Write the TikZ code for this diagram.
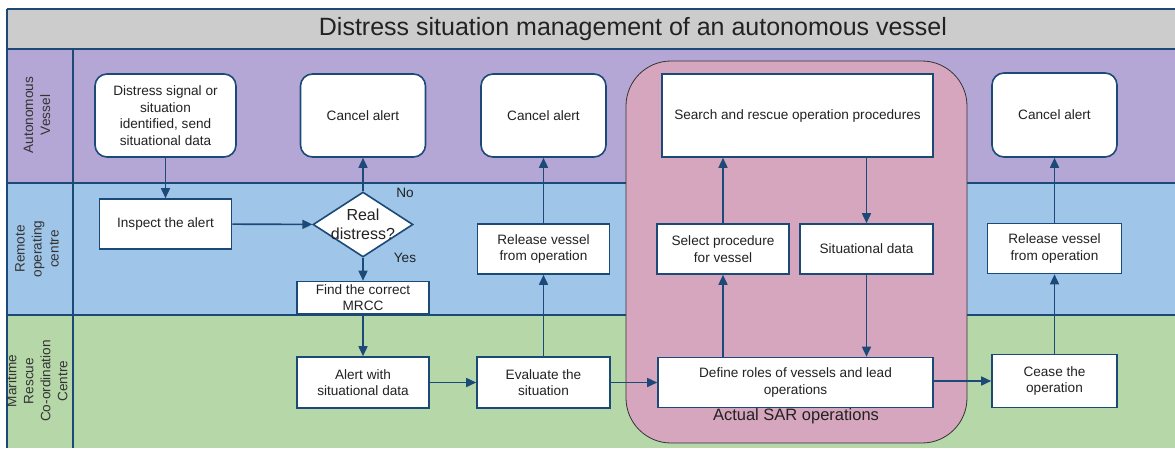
\documentclass[tikz,border=0pt]{standalone}
\usepackage{fontspec}
\setmainfont{Liberation Sans}
\usetikzlibrary{arrows.meta,shapes.geometric}

\definecolor{navy}{HTML}{1B4A78}
\definecolor{titlegray}{HTML}{CCCCCC}
\definecolor{lanepurple}{HTML}{B4A7D6}
\definecolor{laneblue}{HTML}{9FC5E8}
\definecolor{lanegreen}{HTML}{B6D7A8}
\definecolor{sarpink}{HTML}{D5A6BD}
\definecolor{ink}{HTML}{222222}
\definecolor{lanetext}{HTML}{333333}

\tikzset{
  box/.style={draw=navy, line width=1.6pt, fill=white, text=ink, align=center,
    inner sep=0pt, font=\fontsize{13.6}{16.7}\selectfont},
  roundbox/.style={box, rounded corners=12pt},
  decision/.style={diamond, draw=navy, line width=1.6pt, fill=white, inner sep=0pt,
    minimum width=100pt, minimum height=65pt},
  flow/.style={draw=navy, line width=1.6pt, -{Triangle[length=10pt,width=9pt]}},
  divider/.style={draw=navy, line width=1.5pt},
  lanelabel/.style={rotate=90, align=center, text=lanetext,
    font=\fontsize{13.6}{17}\selectfont},
  answer/.style={text=ink, font=\fontsize{13.6}{16}\selectfont}
}

\begin{document}
\begin{tikzpicture}[x=1pt,y=-1pt]
\useasboundingbox (0,0) rectangle (1175,448);

% swimlane backgrounds
\fill[titlegray] (7,9) rectangle (1175,49);
\fill[lanepurple] (7,49) rectangle (1175,183);
\fill[laneblue] (7,183) rectangle (1175,315);
\fill[lanegreen] (7,315) rectangle (1175,448);

% lane borders
\draw[divider] (7,9) -- (1175,9);
\draw[divider] (7,49) -- (1175,49);
\draw[divider] (7,183) -- (1175,183);
\draw[divider] (7,315) -- (1175,315);
\draw[divider] (7,9) -- (7,448);
\draw[divider] (73,49) -- (73,448);

% title and lane names
\node[text=ink, font=\fontsize{25}{30}\selectfont] (title) at (633,29)
  {Distress situation management of an autonomous vessel};
\node[lanelabel] (laneAV) at (37,115) {Autonomous\\Vessel};
\node[lanelabel] (laneROC) at (37,249) {Remote\\operating\\centre};
\node[lanelabel] (laneMRCC) at (37,381) {Maritime\\Rescue\\Co-ordination\\Centre};

% search and rescue group
\draw[fill=sarpink, draw=black!80, line width=0.8pt, rounded corners=45pt]
  (626,61) rectangle (967,443);
\node[text=ink, font=\fontsize{16.5}{20}\selectfont] (sarlabel) at (796,416)
  {Actual SAR operations};

% process steps
\node[roundbox, minimum width=141pt, minimum height=83pt] (dsig) at (165.5,115.5)
  {Distress signal or\\situation\\identified, send\\situational data};
\node[box, minimum width=132pt, minimum height=50pt] (inspect) at (165.5,224)
  {Inspect the alert};
\node[decision, label={[text=ink, align=center, font=\fontsize{16}{18.5}\selectfont]center:Real\\distress?}]
  (real) at (363,224.5) {};
\node[roundbox, minimum width=125pt, minimum height=83pt] (cancelA) at (363,115.5)
  {Cancel alert};
\node[box, minimum width=132pt, minimum height=32pt] (mrcc) at (363,297.5)
  {Find the correct\\MRCC};
\node[box, minimum width=132pt, minimum height=51pt] (alert) at (363,382.5)
  {Alert with\\situational data};
\node[box, minimum width=133pt, minimum height=51pt] (evaluate) at (543.5,382.5)
  {Evaluate the\\situation};
\node[box, minimum width=132pt, minimum height=50pt] (releaseA) at (543.5,249)
  {Release vessel\\from operation};
\node[roundbox, minimum width=125pt, minimum height=83pt] (cancelB) at (543.5,115.5)
  {Cancel alert};
\node[box, minimum width=271pt, minimum height=83pt] (sarproc) at (797.5,115.5)
  {Search and rescue operation procedures};
\node[box, minimum width=132pt, minimum height=50pt] (select) at (723,249)
  {Select procedure\\for vessel};
\node[box, minimum width=133pt, minimum height=50pt] (sitdata) at (866.5,249)
  {Situational data};
\node[box, minimum width=275pt, minimum height=50pt] (define) at (795.5,382.5)
  {Define roles of vessels and lead\\operations};
\node[box, minimum width=125pt, minimum height=53pt] (cease) at (1054.5,381)
  {Cease the\\operation};
\node[box, minimum width=134pt, minimum height=50pt] (releaseB) at (1054.5,248.5)
  {Release vessel\\from operation};
\node[roundbox, minimum width=125pt, minimum height=84pt] (cancelC) at (1054.5,115)
  {Cancel alert};

% decision answers
\node[answer] (no) at (405,193) {No};
\node[answer] (yes) at (405,258) {Yes};

% connectors
\draw[flow] (dsig) -- (inspect);
\draw[flow] (inspect) -- (real);
\draw[flow] (real) -- (cancelA);
\draw[flow] (real) -- (mrcc);
\draw[flow] (mrcc) -- (alert);
\draw[flow] (alert) -- (evaluate);
\draw[flow] (evaluate) -- (releaseA);
\draw[flow] (releaseA) -- (cancelB);
\draw[flow] (evaluate) -- (define);
\draw[flow] (define.north -| select) -- (select);
\draw[flow] (select) -- (select |- sarproc.south);
\draw[flow] (sarproc.south -| sitdata) -- (sitdata);
\draw[flow] (sitdata) -- (sitdata |- define.north);
\draw[flow] (define.east |- cease) -- (cease);
\draw[flow] (cease) -- (releaseB);
\draw[flow] (releaseB) -- (cancelC);
\end{tikzpicture}
\end{document}
